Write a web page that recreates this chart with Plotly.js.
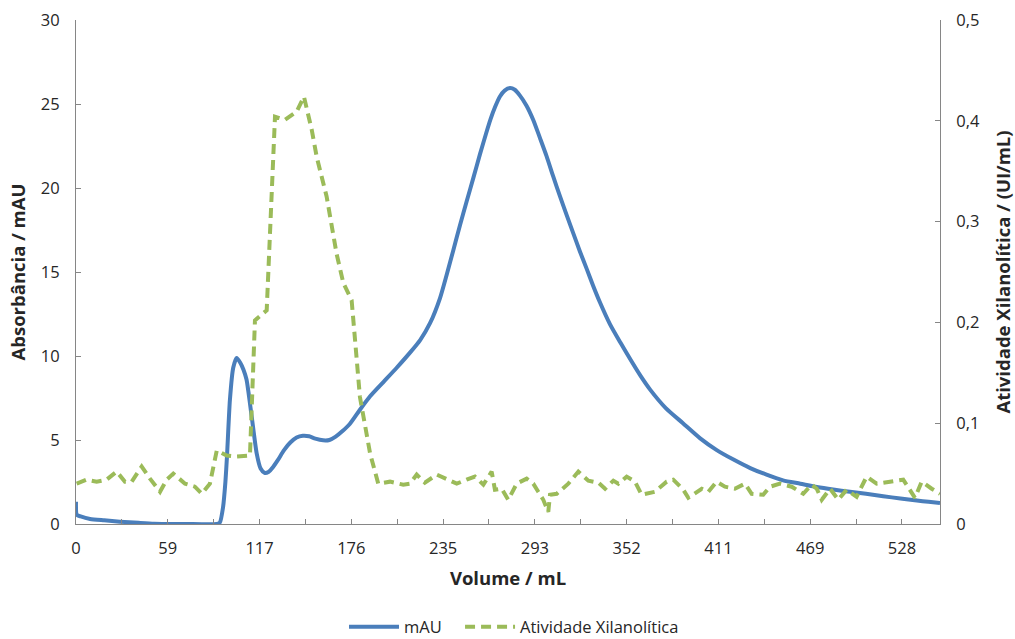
<!DOCTYPE html>
<html>
<head>
<meta charset="utf-8">
<script src="https://cdn.plot.ly/plotly-3.0.1.min.js"></script>
<style>
  html, body { margin: 0; padding: 0; background: #ffffff; }
  #chart { width: 1015px; height: 639px; }
</style>
</head>
<body>
<div id="chart"></div>
<script>
// Absorbance trace (mAU) along elution volume (mL)
const mauVolume = [0, 0.5, 3, 9, 18, 28, 40, 50, 70, 90, 92, 94, 95.5, 96.5, 98.4, 100.5, 102.7, 105, 107, 109,
  112.3, 115.5, 118, 120.5, 123, 126, 129, 133, 137, 141, 145, 149, 153, 158, 162, 166, 170, 175, 181.5, 188,
  196.5, 205, 213.5, 220, 226.3, 232.7, 237, 241.2, 245.5, 249.7, 254, 258.2, 262, 265, 268, 271, 274, 277.4,
  280.5, 283.8, 288, 292.3, 296.5, 300.8, 305, 309.4, 313.6, 317.9, 322, 326.4, 330.5, 334.9, 341.3, 348, 355,
  361, 367, 377, 388, 399, 409.6, 420, 431, 441, 452, 463, 473.6, 484, 494.7, 505, 516, 527, 537.5, 545, 552.3];
const mauValues = [1.33, 0.55, 0.45, 0.3, 0.22, 0.14, 0.07, 0.02, 0.0, 0.0, 0.1, 1.0, 2.5, 4.0, 7.4, 9.3, 9.88, 9.6, 9.2, 8.6,
  6.4, 4.2, 3.3, 3.05, 3.1, 3.4, 3.8, 4.4, 4.85, 5.15, 5.25, 5.22, 5.08, 4.98, 5.0, 5.2, 5.5, 5.95, 6.8, 7.6,
  8.45, 9.3, 10.2, 10.95, 11.95, 13.45, 14.85, 16.3, 17.8, 19.2, 20.6, 22.0, 23.2, 24.1, 24.85, 25.45, 25.8, 25.95,
  25.85, 25.5, 24.9, 24.05, 23.0, 21.9, 20.7, 19.5, 18.4, 17.3, 16.25, 15.2, 14.2, 13.2, 11.9, 10.8, 9.7,
  8.8, 8.0, 6.9, 6.0, 5.1, 4.4, 3.85, 3.33, 2.95, 2.6, 2.4, 2.2, 2.05, 1.92, 1.8, 1.65, 1.52, 1.4, 1.32, 1.25];

// Xylanolytic activity (UI/mL) per collected fraction
const activityVolume = [0.4, 6.8, 13.2, 19.6, 26, 31.3, 35.6, 42, 47.3, 53.7, 58, 62.2, 69.7, 76, 80.4, 85.6, 90, 96.3,
  102.7, 111.2, 114.4, 121.9, 127.2, 133.6, 141, 145.7, 150.7, 153.9, 160.2, 166.6, 170.9, 176.2, 181.5, 188, 193.2,
  200.7, 209.2, 213.5, 217.8, 223, 230.6, 237, 243.4, 249.7, 255, 260.4, 265.7, 267.8, 272.1, 276.3, 281.7, 288.1,
  292.3, 295.5, 298.7, 301.9, 303, 307.3, 314.7, 321.1, 327.5, 333.9, 338.2, 343.5, 346.7, 352, 357.3, 361.6, 370.1,
  377.6, 381.8, 388.2, 391.4, 400, 404.2, 409.5, 414.8, 421.2, 427.6, 431.9, 439.3, 443.6, 450, 457.5, 464.9, 470.3,
  473.5, 476.7, 482, 487.3, 492.6, 499, 505.4, 511.8, 520.3, 528.8, 536.3, 540.6, 547, 552.3];
const activityValues = [0.040, 0.044, 0.042, 0.044, 0.052, 0.042, 0.042, 0.057, 0.045, 0.032, 0.044, 0.050, 0.040, 0.037,
  0.030, 0.040, 0.073, 0.068, 0.067, 0.068, 0.202, 0.212, 0.404, 0.401, 0.409, 0.424, 0.391, 0.364, 0.325, 0.268,
  0.239, 0.222, 0.126, 0.070, 0.040,
  0.042, 0.039, 0.040, 0.049, 0.041, 0.049, 0.044, 0.040, 0.044, 0.047, 0.039, 0.052, 0.034, 0.035, 0.024, 0.040,
  0.045, 0.040, 0.032, 0.024, 0.012, 0.029, 0.030, 0.040, 0.052, 0.043, 0.041, 0.035, 0.043, 0.040, 0.047, 0.042,
  0.029, 0.032, 0.042, 0.044, 0.034, 0.026, 0.035, 0.032, 0.042, 0.037, 0.035, 0.040, 0.030, 0.029, 0.037, 0.040,
  0.037, 0.030, 0.039, 0.035, 0.024, 0.035, 0.024, 0.034, 0.027, 0.047, 0.040, 0.042, 0.044, 0.026, 0.042, 0.035,
  0.030];

// Volume axis labels (every other tick carries a label)
const volumeTickLabels = ['0', '59', '117', '176', '235', '293', '352', '411', '469', '528'];
const volumeTickStep = 176 / 3;

const tickVals = [];
const tickText = [];
volumeTickLabels.forEach((lab, i) => {
  tickVals.push(i * volumeTickStep);
  tickText.push(lab);
  tickVals.push((i + 0.5) * volumeTickStep);
  tickText.push('');
});

const axisGrey = '#868686';
const textColor = '#262626';
const baseFont = 'Open Sans, Liberation Sans, sans-serif';
const tickFont = { family: baseFont, size: 16.5, color: textColor };
const titleFont = { family: baseFont, size: 18.5, color: textColor, weight: 'bold' };
const legendFont = { family: baseFont, size: 16.5, color: textColor };

const traces = [
  {
    x: mauVolume, y: mauValues, name: 'mAU', type: 'scatter', mode: 'lines',
    line: { color: '#4a7ebb', width: 4, shape: 'spline', smoothing: 0.6 },
    yaxis: 'y', legend: 'legend'
  },
  {
    x: activityVolume, y: activityValues, name: 'Atividade Xilanolítica', type: 'scatter', mode: 'lines',
    line: { color: '#9bbb59', width: 4, dash: '10px,6px' },
    yaxis: 'y2', legend: 'legend2'
  }
];

const legendBase = {
  orientation: 'h', xanchor: 'left',
  yref: 'container', y: 12 / 639, yanchor: 'middle',
  font: legendFont, itemwidth: 50
};

const layout = {
  width: 1015, height: 639,
  margin: { l: 76, r: 75, t: 20, b: 115, pad: 0 },
  paper_bgcolor: '#ffffff', plot_bgcolor: '#ffffff',
  separators: ',.',
  font: { family: baseFont, size: 16, color: textColor },
  showlegend: true,
  legend: Object.assign({}, legendBase, { x: 0.3102 }),
  legend2: Object.assign({}, legendBase, { x: 0.4445 }),
  xaxis: {
    range: [0, 552.3], showgrid: false, zeroline: false, automargin: false,
    showline: true, linecolor: axisGrey, linewidth: 1,
    ticks: 'inside', ticklen: 5, tickcolor: axisGrey, tickwidth: 1,
    tickmode: 'array', tickvals: tickVals, ticktext: tickText,
    ticklabelstandoff: 9,
    tickfont: tickFont,
    title: { text: 'Volume / mL', font: titleFont, standoff: 14 }
  },
  yaxis: {
    range: [0, 30], dtick: 5, showgrid: false, zeroline: false, automargin: false,
    showline: true, linecolor: axisGrey, linewidth: 1,
    ticks: 'inside', ticklen: 5, tickcolor: axisGrey, tickwidth: 1,
    ticklabelstandoff: 12,
    tickfont: tickFont,
    title: { text: 'Absorbância / mAU', font: titleFont, standoff: 10 }
  },
  yaxis2: {
    range: [0, 0.5], dtick: 0.1, overlaying: 'y', side: 'right',
    showgrid: false, zeroline: false, automargin: false,
    showline: true, linecolor: axisGrey, linewidth: 1,
    ticks: 'inside', ticklen: 5, tickcolor: axisGrey, tickwidth: 1,
    ticklabelstandoff: 12,
    tickfont: tickFont,
    title: { text: 'Atividade Xilanolítica / (UI/mL)', font: titleFont, standoff: 20 }
  }
};

Plotly.newPlot('chart', traces, layout, { staticPlot: true, displayModeBar: false });
</script>
</body>
</html>
